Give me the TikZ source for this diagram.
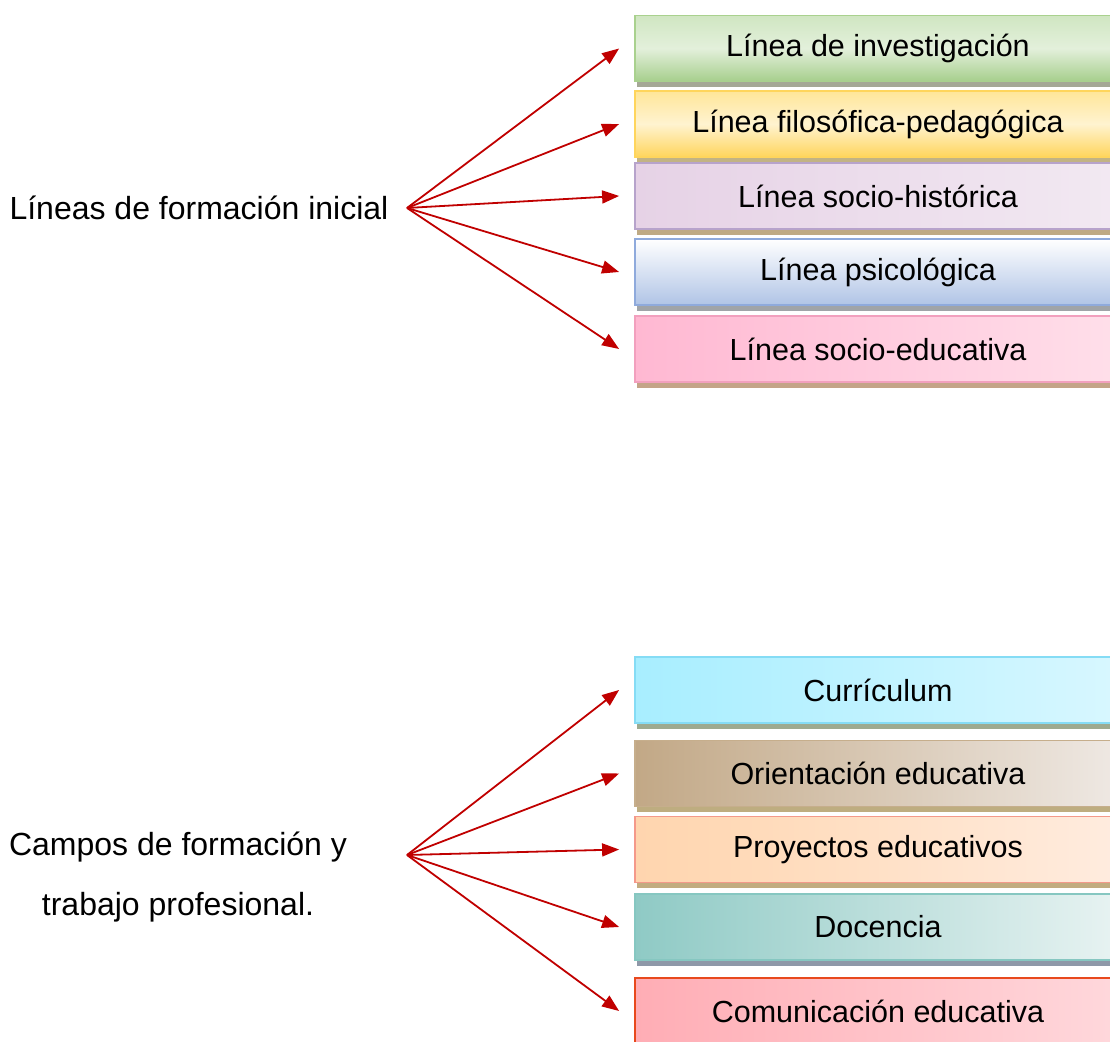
\documentclass[tikz,border=0pt]{standalone}
\usepackage{fontspec}
\setmainfont{Liberation Sans}
\usetikzlibrary{
	arrows.meta,
	positioning,
	shadows,
}
\definecolor{rojo}{HTML}{C00000}
\definecolor{bVerde}{HTML}{A9D18E}\definecolor{sVerde}{HTML}{A5A896}
\definecolor{bAmarillo}{HTML}{FFD55C}\definecolor{sAmarillo}{HTML}{C2B384}
\definecolor{bLila}{HTML}{B7A3CB}\definecolor{sLila}{HTML}{BFAA84}
\definecolor{bAzul}{HTML}{8FAADC}\definecolor{sAzul}{HTML}{A0A4A8}
\definecolor{bRosa}{HTML}{F2A0BE}\definecolor{sRosa}{HTML}{C4A488}
\definecolor{bCian}{HTML}{85DCF5}\definecolor{sCian}{HTML}{9EAA90}
\definecolor{bCafe}{HTML}{C6AE8C}\definecolor{sCafe}{HTML}{BEAD80}
\definecolor{bDurazno}{HTML}{F4998A}\definecolor{sDurazno}{HTML}{C2AC80}
\definecolor{bTeal}{HTML}{86C7C1}\definecolor{sTeal}{HTML}{8E98A8}
\definecolor{bRojo}{HTML}{E8491D}
\tikzset{caja/.style={draw,line width=1.8pt,minimum width=486pt,minimum height=66pt,inner sep=0pt,font=\fontsize{30.5}{36}\selectfont,}}
\tikzset{sombra/.style={drop shadow={shadow xshift=2pt,shadow yshift=-6pt,opacity=1,fill=#1}}}
\tikzset{titulo/.style={font=\fontsize{32}{60}\selectfont,align=center,}}
\tikzset{flecha/.style={-{Triangle[length=17pt,width=13pt]},rojo,line width=1.8pt,}}

\begin{document}
\begin{tikzpicture}[x=1pt,y=1pt]
\clip (0,0) rectangle (1110,1041);

% lineas
\node[titulo,anchor=west] (L) at (6,833) {Líneas de formación inicial};
\coordinate (L0) at (407,833);

\node[caja,sombra=sVerde,draw=bVerde,top color={rgb,255:red,208;green,230;blue,194},bottom color={rgb,255:red,166;green,207;blue,140},middle color={rgb,255:red,227;green,240;blue,219}] (l1) at (878,992.5) {Línea de investigación};
\node[caja,sombra=sAmarillo,draw=bAmarillo,top color={rgb,255:red,255;green,230;blue,153},bottom color={rgb,255:red,255;green,213;blue,92},middle color={rgb,255:red,255;green,243;blue,208}] (l2) at (878,917) {Línea filosófica-pedagógica};
\node[caja,sombra=sLila,draw=bLila,left color={rgb,255:red,230;green,210;blue,230},right color={rgb,255:red,242;green,233;blue,242}] (l3) at (878,845) {Línea socio-histórica};
\node[caja,sombra=sAzul,draw=bAzul,top color=white,bottom color={rgb,255:red,176;green,196;blue,230}] (l4) at (878,769) {Línea psicológica};
\node[caja,sombra=sRosa,draw=bRosa,left color={rgb,255:red,255;green,184;blue,210},right color={rgb,255:red,255;green,223;blue,234}] (l5) at (878,692) {Línea socio-educativa};

\foreach \n in {l1,l2,l3,l4,l5}
	\draw[flecha] (L0) -- ([xshift=-15pt]\n.west);

% campos
\node[titulo] (C) at (178,164) {Campos de formación y\\trabajo profesional.};
\coordinate (C0) at (407,186);

\node[caja,sombra=sCian,draw=bCian,left color={rgb,255:red,168;green,238;blue,255},right color={rgb,255:red,216;green,247;blue,255}] (c1) at (878,351) {Currículum};
\node[caja,sombra=sCafe,draw=bCafe,left color={rgb,255:red,194;green,168;blue,134},right color={rgb,255:red,239;green,233;blue,228}] (c2) at (878,267.5) {Orientación educativa};
\node[caja,sombra=sDurazno,draw=bDurazno,left color={rgb,255:red,255;green,213;blue,174},right color={rgb,255:red,255;green,236;blue,223}] (c3) at (878,191.5) {Proyectos educativos};
\node[caja,sombra=sTeal,draw=bTeal,left color={rgb,255:red,143;green,202;blue,197},right color={rgb,255:red,232;green,243;blue,242}] (c4) at (878,114) {Docencia};
\node[caja,draw=bRojo,left color={rgb,255:red,255;green,173;blue,181},right color={rgb,255:red,255;green,216;blue,220}] (c5) at (878,30) {Comunicación educativa};

\foreach \n in {c1,c2,c3,c4,c5}
	\draw[flecha] (C0) -- ([xshift=-15pt]\n.west);
\end{tikzpicture}
\end{document}
